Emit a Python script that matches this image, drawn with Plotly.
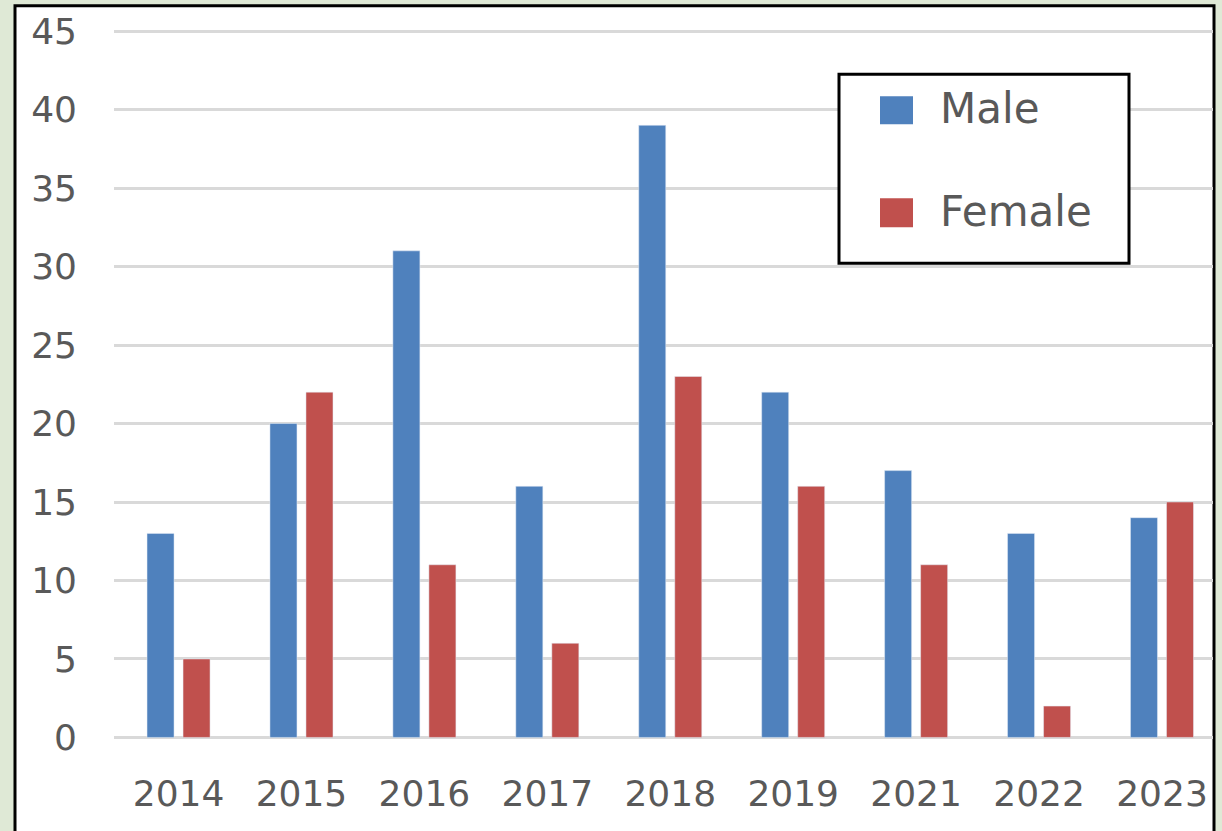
import plotly.graph_objects as go

years = ["2014", "2015", "2016", "2017", "2018", "2019", "2021", "2022", "2023"]
male = [13, 20, 31, 16, 39, 22, 17, 13, 14]
female = [5, 22, 11, 6, 23, 16, 11, 2, 15]
y_ticks = [0, 5, 10, 15, 20, 25, 30, 35, 40, 45]

BG = "#dfe9d6"
OFF = 0  # body margin removed via post_script
W, H = 1222 - OFF, 831 - OFF
PLOT_L, PLOT_R = 114 - OFF, 1213 - OFF
Y0_PX, Y45_PX = 737 - OFF, 31 - OFF
UNIT = (Y0_PX - Y45_PX) / 45.0
Y_LO, Y_HI = -0.1, 45.2
T = Y45_PX - (Y_HI - 45) * UNIT
B = H - (Y0_PX + (0 - Y_LO) * UNIT)
L, R = PLOT_L, W - PLOT_R
PW, PH = W - L - R, H - T - B

def px(x):
    return (x - OFF - L) / PW

def py(y):
    return (H - B - (y - OFF)) / PH

BLUE = "#4f81bd"
RED = "#c0504d"
TXT = "#595959"
FONT = "DejaVu Sans"

fig = go.Figure()
fig.add_trace(go.Bar(x=years, y=male, name="Male", marker_color=BLUE, showlegend=False))
fig.add_trace(go.Bar(x=years, y=female, name="Female", marker_color=RED, showlegend=False))

shapes = [
    dict(type="rect", xref="paper", yref="paper", x0=px(15), x1=px(1214), y0=py(5.5), y1=py(900),
         fillcolor="white", line=dict(color="black", width=3), layer="below"),
    dict(type="rect", xref="paper", yref="paper", x0=px(839), x1=px(1129), y0=py(74), y1=py(263),
         fillcolor="white", line=dict(color="black", width=3), layer="above"),
    dict(type="rect", xref="paper", yref="paper", x0=px(880), x1=px(913), y0=py(96), y1=py(124),
         fillcolor=BLUE, line=dict(width=0), layer="above"),
    dict(type="rect", xref="paper", yref="paper", x0=px(880), x1=px(913), y0=py(198), y1=py(227),
         fillcolor=RED, line=dict(width=0), layer="above"),
]

annotations = [
    dict(text="Male", xref="paper", yref="paper", x=px(938), y=py(108), xanchor="left", yanchor="middle",
         showarrow=False, font=dict(family=FONT, size=42, color=TXT)),
    dict(text="Female", xref="paper", yref="paper", x=px(938), y=py(211), xanchor="left", yanchor="middle",
         showarrow=False, font=dict(family=FONT, size=42, color=TXT)),
]

fig.update_layout(
    width=W, height=H,
    margin=dict(l=L, r=R, t=T, b=B, pad=0, autoexpand=False),
    paper_bgcolor=BG,
    plot_bgcolor="white",
    barmode="group",
    bargap=0.414,
    bargroupgap=0.25,
    shapes=shapes,
    annotations=annotations,
    font=dict(family=FONT, size=36, color=TXT),
)
fig.update_xaxes(
    type="category", range=[-0.525, 8.415], showgrid=False, showline=False, ticks="",
    zeroline=False, ticklabelstandoff=30, automargin=False,
    tickfont=dict(family=FONT, size=36, color=TXT),
)
fig.update_yaxes(
    range=[Y_LO, Y_HI], tickvals=y_ticks, showgrid=True, gridcolor="#d9d9d9", gridwidth=2.5,
    zeroline=False, showline=False, ticks="", ticklabelstandoff=36, automargin=False,
    tickfont=dict(family=FONT, size=36, color=TXT),
)

post = ("document.body.style.margin='0';document.body.style.overflow='hidden';"
        "document.body.style.background='" + BG + "';")
fig.write_html("out.html", post_script=post, config={"displayModeBar": False})
